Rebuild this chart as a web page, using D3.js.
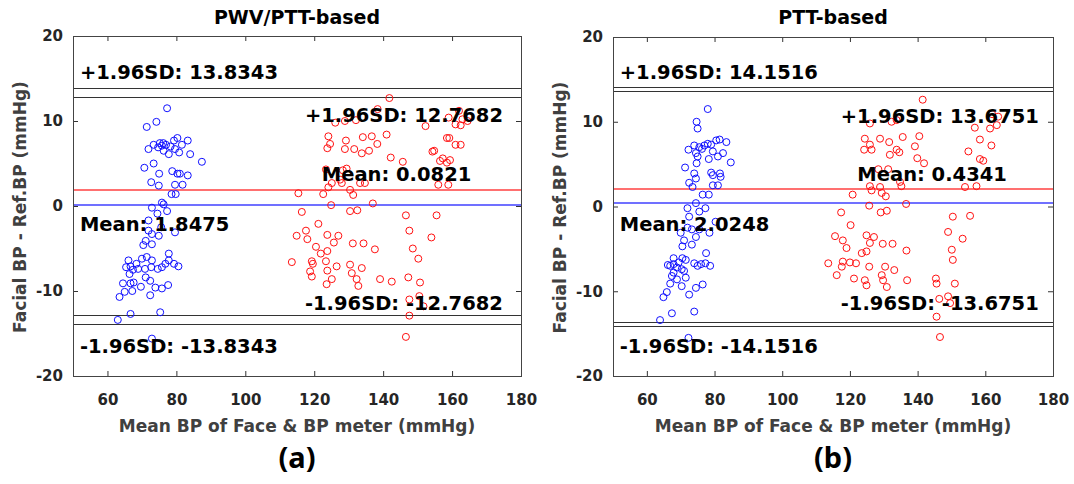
<!DOCTYPE html>
<html>
<head>
<meta charset="utf-8">
<script src="https://cdn.jsdelivr.net/npm/d3@7"></script>
<style>
body { margin: 0; background: #fff; }
svg text { font-family: "DejaVu Sans", sans-serif; font-weight: bold; }
</style>
</head>
<body>
<div id="chart"></div>
<script>
const width = 1074
const height = 484

const xDomain = [50, 180]
const yDomain = [-20, 20]
const xTicks = [60, 80, 100, 120, 140, 160, 180]
const yTicks = [-20, -10, 0, 10, 20]

const titles = ["PWV/PTT-based", "PTT-based"]
const tags = ["(a)", "(b)"]
const xLabel = "Mean BP of Face & BP meter (mmHg)"
const yLabel = "Facial BP - Ref.BP (mmHg)"

// limits of agreement: outer upper, inner upper, inner lower, outer lower
const limitsA = [13.8343, 12.7682, -12.7682, -13.8343]
const limitsB = [14.1516, 13.6751, -13.6751, -14.1516]
// mean lines: red, blue
const meansA = [1.8475, 0.0821]
const meansB = [2.0248, 0.4341]

// [mean BP, difference]
const bluePointsA = [
    [77.3,11.5],[74.2,9.9],[71.4,9.3],
    [71.9,6.7],[73.4,7.2],[74.7,6.9],[75.8,7.1],[77.0,7.2],[78.3,7.0],[79.3,7.7],[80.3,8.0],[81.6,7.2],[83.3,7.7],
    [79.6,6.7],[80.8,6.3],[77.8,6.1],[76.3,6.5],[84.0,6.1],[87.4,5.2],[75.2,7.4],[76.2,7.4],
    [70.7,4.5],[73.4,5.0],[75.0,3.8],[72.7,2.8],[74.9,2.4],[78.8,4.1],[80.3,3.8],[81.0,3.8],[83.3,3.6],
    [79.6,2.5],[81.8,2.5],[78.6,1.4],[79.8,1.4],
    [75.8,0.4],[76.3,0.2],[72.9,-0.2],[77.3,-0.6],[74.5,-0.9],[71.9,-1.7],[75.6,-2.5],[71.9,-2.9],[72.9,-3.3],
    [79.6,-3.1],[74.9,-3.5],[71.1,-4.1],[70.4,-4.6],[72.9,-4.5],[77.8,-5.6],
    [70.0,-6.2],[71.4,-6.0],[72.9,-6.4],[66.1,-6.4],[68.4,-6.8],[65.4,-7.2],[66.7,-7.1],[67.4,-7.5],[68.9,-7.4],
    [70.9,-7.4],[72.7,-7.2],[74.6,-7.4],[75.8,-7.2],[76.8,-6.8],[79.3,-6.8],[80.6,-7.1],[77.8,-6.4],
    [66.4,-8.0],[71.1,-8.4],[72.4,-8.8],[64.5,-9.1],[66.7,-9.1],[69.7,-9.5],[73.9,-9.6],[75.8,-9.7],[77.6,-9.3],
    [65.0,-10.1],[67.2,-10.0],[63.5,-10.7],[72.4,-10.5],[67.6,-9.0],
    [66.7,-12.7],[75.3,-12.5],[63.0,-13.4],[72.9,-15.6]
]
const redPointsA = [
    [141.8,12.7],[126.1,9.8],[128.9,10.0],[132.1,10.1],[152.3,9.4],[138.4,11.4],
    [162.0,11.2],[159.0,10.4],[163.0,10.2],[161.0,9.6],[162.5,9.5],[164.5,10.0],[161.0,7.2],[158.5,8.0],
    [154.3,6.4],[156.5,5.3],[158.5,5.1],
    [124.1,8.2],[124.6,7.3],[123.8,6.8],[129.2,7.7],[128.9,6.7],[134.1,8.1],[136.7,8.2],[141.0,8.4],[138.3,7.3],
    [131.6,6.7],[133.8,6.2],[135.9,6.5],[142.2,5.7],[145.7,5.2],[154.8,6.5],[157.3,5.6],[159.4,5.4],[159.2,8.0],[162.5,7.2],
    [129.4,4.4],[123.4,4.3],[128.3,4.2],[124.1,2.2],[122.6,1.4],[125.1,2.7],[128.0,2.7],[130.4,1.9],[131.3,1.3],
    [133.3,2.7],[134.7,2.7],[127.5,3.1],[156.0,2.5],[158.9,2.5],[155.5,3.5],
    [115.4,1.5],[124.9,0.1],[137.0,0.3],[116.4,-0.7],[130.4,-0.6],[132.5,-0.5],[146.6,-1.1],[155.5,-1.1],[121.2,-2.1],[147.6,-2.9],
    [114.9,-3.5],[117.6,-2.9],[118.0,-3.9],[123.8,-3.4],[127.0,-3.5],[125.7,-4.3],[131.2,-4.4],[134.3,-4.4],
    [120.5,-4.8],[121.9,-5.6],[123.8,-5.3],[137.6,-5.1],[148.6,-5.0],[150.2,-6.2],[154.0,-3.7],
    [113.5,-6.6],[119.3,-6.5],[119.6,-6.8],[123.4,-6.5],[126.5,-7.1],[130.4,-6.9],[133.8,-7.3],[118.8,-7.7],
    [123.8,-7.6],[130.9,-7.9],[119.3,-8.3],[125.1,-8.6],[132.3,-8.6],[139.1,-8.6],[142.5,-8.9],[147.3,-8.4],
    [150.7,-9.0],[123.6,-9.2],[132.8,-9.4],
    [147.6,-11.0],[150.5,-10.6],[151.7,-11.8],[147.6,-12.9],[146.6,-15.4]
]
const bluePointsB = [
    [78.0,11.5],[74.7,10.0],[75.0,9.2],
    [72.3,6.7],[74.0,7.2],[75.5,7.0],[76.3,6.8],[77.0,7.2],[78.0,7.4],[79.0,7.3],[80.5,7.8],[81.5,7.9],[83.5,7.6],
    [74.5,6.3],[79.5,6.5],[81.0,5.9],[82.5,6.3],[84.8,5.2],
    [71.3,4.6],[74.7,5.1],[75.0,5.9],[78.3,5.6],[74.0,3.9],[74.5,3.3],[72.5,2.8],[73.5,2.3],
    [79.0,4.0],[79.5,3.7],[81.6,3.9],[81.8,3.5],[79.5,2.5],[81.0,2.5],[76.5,1.4],[78.3,1.4],
    [74.5,0.4],[72.0,-0.2],[75.5,-0.6],[77.3,-0.2],[80.3,-1.8],[72.5,-1.2],
    [72.0,-2.5],[73.3,-2.7],[75.5,-2.7],[78.5,-3.1],[70.0,-3.1],[71.0,-4.0],[73.3,-4.5],[70.5,-4.7],[74.5,-3.6],[77.5,-5.5],
    [67.9,-6.1],[70.5,-6.1],[71.5,-6.3],[66.9,-7.0],[67.9,-6.8],[68.9,-7.2],[70.3,-7.4],[71.0,-7.6],
    [74.0,-6.7],[75.0,-7.0],[76.0,-6.8],[77.3,-6.7],[78.7,-7.0],[66.2,-6.9],[67.9,-7.8],[69.4,-6.6],
    [67.4,-8.2],[68.9,-8.6],[71.5,-8.4],[66.9,-9.1],[70.3,-9.4],[74.5,-9.6],[76.5,-9.2],
    [65.9,-10.1],[64.9,-10.7],[72.5,-10.4],
    [67.4,-12.6],[74.0,-12.4],[63.9,-13.4],[72.3,-15.5]
]
const redPointsB = [
    [141.5,12.6],[125.9,9.8],[132.3,10.0],[133.8,10.2],[156.9,9.3],[161.4,9.2],[163.4,9.6],[163.8,10.6],[162.0,10.9],
    [158.4,7.9],[161.8,7.2],
    [124.4,8.0],[125.9,7.3],[124.2,6.7],[126.4,6.7],[128.9,8.0],[131.6,7.6],[135.6,8.2],[139.2,7.1],[140.5,8.3],
    [131.8,6.1],[133.8,6.7],[134.6,6.4],[139.9,5.7],[141.9,5.1],[155.0,6.5],[158.4,5.6],[159.4,5.4],
    [128.4,4.4],[131.3,4.4],[134.8,2.9],[135.2,2.4],[125.9,2.4],[126.4,1.9],[128.9,2.3],[129.4,1.6],[130.6,1.2],
    [120.8,1.4],[154.0,2.3],[157.4,2.4],
    [125.7,0.1],[136.6,0.3],[117.4,-0.7],[129.1,-0.7],[130.9,-0.5],[150.4,-1.2],[155.5,-1.1],[120.2,-2.2],[149.0,-3.0],
    [115.6,-3.5],[117.9,-4.0],[124.9,-3.4],[127.1,-3.6],[125.9,-4.3],[129.7,-4.4],[132.6,-4.4],[119.0,-4.9],
    [123.5,-5.5],[124.9,-5.3],[136.7,-5.2],[150.1,-5.1],[150.4,-6.3],[153.3,-3.8],
    [113.6,-6.7],[117.9,-6.5],[120.0,-6.6],[121.8,-6.7],[117.6,-7.1],[116.1,-8.1],[125.7,-7.1],[130.4,-7.1],
    [133.1,-7.5],[129.4,-8.1],[121.2,-8.5],[124.4,-8.7],[124.9,-9.3],[129.8,-8.7],[130.9,-9.5],[136.9,-8.7],
    [145.4,-8.5],[145.6,-9.1],[151.0,-9.1],
    [146.4,-10.9],[149.0,-10.6],[149.6,-11.4],[145.6,-13.0],[146.6,-15.4]
]

const svg = d3.select("#chart")
    .append("svg")
    .attr("width", width)
    .attr("height", height)

svg.append("rect")
    .attr("width", width)
    .attr("height", height)
    .attr("fill", "#fff")

function drawPanel(box, title, tag, limits, means, blue, red) {
    const x = d3.scaleLinear().domain(xDomain).range([box.left, box.right])
    const y = d3.scaleLinear().domain(yDomain).range([box.bottom, box.top])
    const g = svg.append("g")
    const cx = (box.left + box.right) / 2

    // limit lines
    g.selectAll(".limit")
        .data(limits)
        .join("line")
        .attr("class", "limit")
        .attr("x1", box.left)
        .attr("x2", box.right)
        .attr("y1", d => Math.round(y(d)) + 0.5)
        .attr("y2", d => Math.round(y(d)) + 0.5)
        .attr("stroke", "#333")
        .attr("stroke-width", 1)

    // mean lines, left soft like the anti-aliased originals
    g.selectAll(".mean")
        .data(means)
        .join("line")
        .attr("class", "mean")
        .attr("x1", box.left)
        .attr("x2", box.right)
        .attr("y1", d => Math.round(y(d)))
        .attr("y2", d => Math.round(y(d)))
        .attr("stroke", (d, i) => i == 0 ? "#ff0000" : "#0000ff")
        .attr("stroke-opacity", 0.75)
        .attr("stroke-width", 1.4)

    g.selectAll(".blue")
        .data(blue)
        .join("circle")
        .attr("class", "blue")
        .attr("cx", d => x(d[0]))
        .attr("cy", d => y(d[1]))
        .attr("r", 3.5)
        .attr("fill", "none")
        .attr("stroke", "#1010ff")
        .attr("stroke-width", 1)

    g.selectAll(".red")
        .data(red)
        .join("circle")
        .attr("class", "red")
        .attr("cx", d => x(d[0]))
        .attr("cy", d => y(d[1]))
        .attr("r", 3.5)
        .attr("fill", "none")
        .attr("stroke", "#ff1010")
        .attr("stroke-width", 1)

    // annotations, placed in data units like the original text() calls
    const notes = [
        { text: `+1.96SD: ${limits[0]}`, x: 52, y: 15.0 },
        { text: `+1.96SD: ${limits[1]}`, x: 117.3, y: 9.9 },
        { text: `Mean: ${means[1]}`, x: 122.2, y: 2.95 },
        { text: `Mean: ${means[0]}`, x: 52, y: -2.92 },
        { text: `-1.96SD: ${limits[2]}`, x: 117.3, y: -12.2 },
        { text: `-1.96SD: ${limits[3]}`, x: 52, y: -17.3 }
    ]
    g.selectAll(".note")
        .data(notes)
        .join("text")
        .attr("class", "note")
        .attr("x", d => x(d.x))
        .attr("y", d => y(d.y))
        .attr("font-size", 19.5)
        .attr("fill", "#000")
        .text(d => d.text)

    // axes, ticks pointing inward on all four sides
    const plain = d => String(d)
    const bottomAxis = g.append("g")
        .attr("transform", `translate(0,${box.bottom})`)
        .call(d3.axisBottom(x).tickValues(xTicks).tickSizeInner(-5).tickSizeOuter(0).tickPadding(18).tickFormat(plain))
    const leftAxis = g.append("g")
        .attr("transform", `translate(${box.left},0)`)
        .call(d3.axisLeft(y).tickValues(yTicks).tickSizeInner(-5).tickSizeOuter(0).tickPadding(10).tickFormat(plain))
    g.append("g")
        .attr("transform", `translate(0,${box.top})`)
        .call(d3.axisTop(x).tickValues(xTicks).tickSizeInner(-5).tickSizeOuter(0).tickFormat(""))
    g.append("g")
        .attr("transform", `translate(${box.right},0)`)
        .call(d3.axisRight(y).tickValues(yTicks).tickSizeInner(-5).tickSizeOuter(0).tickFormat(""))
    g.selectAll(".domain").remove()
    g.selectAll(".tick line").attr("stroke", "#333")
    bottomAxis.selectAll("text")
        .attr("font-size", 15)
        .attr("fill", "#262626")
        .style("font-family", "DejaVu Sans")
    leftAxis.selectAll("text")
        .attr("font-size", 15)
        .attr("fill", "#262626")
        .style("font-family", "DejaVu Sans")

    g.append("rect")
        .attr("x", box.left + 0.5)
        .attr("y", box.top + 0.5)
        .attr("width", box.right - box.left)
        .attr("height", box.bottom - box.top)
        .attr("fill", "none")
        .attr("stroke", "#444")
        .attr("stroke-width", 1)

    g.append("text")
        .text(title)
        .attr("x", cx)
        .attr("y", 24)
        .attr("font-size", 19)
        .attr("fill", "#000")
        .style("text-anchor", "middle")

    g.append("text")
        .text(xLabel)
        .attr("x", cx)
        .attr("y", 432)
        .attr("font-size", 17)
        .attr("fill", "#404040")
        .style("text-anchor", "middle")

    g.append("text")
        .text(yLabel)
        .attr("transform", `rotate(-90)`)
        .attr("x", -(box.top + box.bottom) / 2 - 1)
        .attr("y", box.left - 53)
        .attr("font-size", 17)
        .attr("fill", "#404040")
        .attr("dominant-baseline", "central")
        .style("text-anchor", "middle")

    g.append("text")
        .text(tag)
        .attr("x", cx)
        .attr("y", 468)
        .attr("font-size", 29)
        .attr("fill", "#000")
        .style("font-family", "'Noto Sans', sans-serif")
        .style("text-anchor", "middle")
}

drawPanel({ left: 73, right: 521, top: 36, bottom: 376 }, titles[0], tags[0], limitsA, meansA, bluePointsA, redPointsA)
drawPanel({ left: 613, right: 1053, top: 37, bottom: 376 }, titles[1], tags[1], limitsB, meansB, bluePointsB, redPointsB)
</script>
</body>
</html>
